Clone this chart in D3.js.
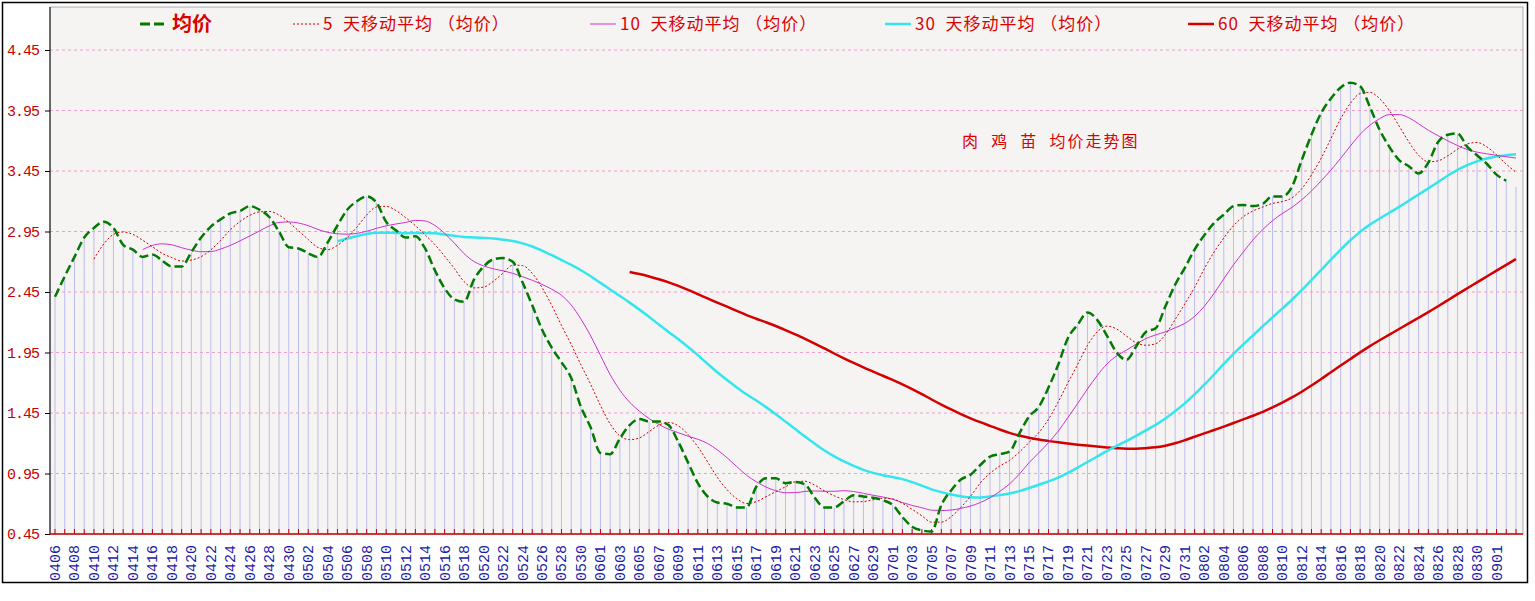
<!DOCTYPE html>
<html>
<head>
<meta charset="utf-8">
<script src="https://cdn.jsdelivr.net/npm/d3@7"></script>
<style>
  body { margin: 0; background: #fff; }
  svg { display: block; }
</style>
</head>
<body>
<svg id="chart" width="1535" height="601"></svg>
<script>
// daily average price (均价), 0406 .. 0903
const avgPrice = [
  2.41, 2.58, 2.74, 2.90, 2.98, 3.03, 2.98, 2.84, 2.80, 2.74,
  2.76, 2.71, 2.66, 2.66, 2.78, 2.90, 2.99, 3.05, 3.10, 3.12,
  3.16, 3.13, 3.07, 2.95, 2.82, 2.81, 2.77, 2.74, 2.86, 3.00,
  3.13, 3.20, 3.24, 3.19, 3.03, 2.96, 2.90, 2.91, 2.81, 2.63,
  2.48, 2.39, 2.37, 2.55, 2.66, 2.72, 2.73, 2.70, 2.53, 2.34,
  2.14, 1.99, 1.87, 1.74, 1.50, 1.33, 1.12, 1.11, 1.24, 1.35,
  1.40, 1.38, 1.38, 1.35, 1.21, 1.04, 0.87, 0.76, 0.71, 0.70,
  0.67, 0.67, 0.84, 0.91, 0.91, 0.87, 0.88, 0.86, 0.75, 0.67,
  0.67, 0.72, 0.77, 0.76, 0.75, 0.73, 0.69, 0.59, 0.51, 0.48,
  0.47, 0.69, 0.81, 0.90, 0.94, 1.02, 1.09, 1.11, 1.13, 1.28,
  1.42, 1.50, 1.66, 1.85, 2.07, 2.18, 2.28, 2.22, 2.09, 1.95,
  1.89, 2.00, 2.12, 2.15, 2.33, 2.51, 2.65, 2.80, 2.92, 3.02,
  3.09, 3.16, 3.17, 3.16, 3.18, 3.24, 3.24, 3.32, 3.54, 3.75,
  3.93, 4.05, 4.14, 4.18, 4.15, 3.98, 3.79, 3.65, 3.54, 3.49,
  3.43, 3.52, 3.69, 3.75, 3.76, 3.65, 3.58, 3.51, 3.42, 3.37,
  3.32
];
const maPeriods = [5, 10, 30, 60];
const yTicks = [0.45, 0.95, 1.45, 1.95, 2.45, 2.95, 3.45, 3.95, 4.45];
const startDate = new Date(2020, 3, 6);
const dayLabels = avgPrice.map((d, i) => d3.timeFormat("%m%d")(d3.timeDay.offset(startDate, i)));

const legendItems = [
  { label: "均价", color: "#007a00", width: 2.5, dash: "9,4", big: true },
  { label: "5  天移动平均 （均价）", color: "#cc0000", width: 1, dash: "2,2" },
  { label: "10  天移动平均 （均价）", color: "#cc33cc", width: 1, dash: null },
  { label: "30  天移动平均 （均价）", color: "#33e6ee", width: 2.5, dash: null },
  { label: "60  天移动平均 （均价）", color: "#d40000", width: 2.5, dash: null }
];
const legendX = [140, 293, 590, 885, 1188];

const svg = d3.select("#chart");
const plot = { left: 50, right: 1523, top: 7, bottom: 534 };

const x = d3.scaleLinear().domain([0, 150]).range([55, 1516]);
const y = d3.scaleLinear().domain([0.45, 4.45]).range([534, 50]);

// frame + paper background
svg.append("rect").attr("x", 2.5).attr("y", 2.5).attr("width", 1525).attr("height", 580)
  .attr("fill", "#fff").attr("stroke", "#000").attr("stroke-width", 1.5);
svg.append("rect").attr("x", plot.left).attr("y", plot.top)
  .attr("width", plot.right - plot.left).attr("height", plot.bottom - plot.top)
  .attr("fill", "#f6f3f3").attr("stroke", "#999").attr("stroke-width", 0.8);

// daily bars
svg.append("g").selectAll("line").data(avgPrice).join("line")
  .attr("x1", (d, i) => x(i)).attr("x2", (d, i) => x(i))
  .attr("y1", y(0.45)).attr("y2", d => y(d))
  .attr("stroke", "#bcbcee").attr("stroke-width", 1);

// horizontal grid
svg.append("g").selectAll("line").data(yTicks.slice(1)).join("line")
  .attr("x1", plot.left).attr("x2", plot.right)
  .attr("y1", d => y(d)).attr("y2", d => y(d))
  .attr("stroke", "#e8a0cc").attr("stroke-dasharray", "3,3").attr("stroke-width", 1);

// y axis
const yAxis = svg.append("g").attr("transform", `translate(${plot.left},0)`)
  .call(d3.axisLeft(y).tickValues(yTicks).tickSize(5).tickFormat(d3.format(".2f")));
yAxis.select(".domain").attr("stroke", "#000").attr("d", `M0,${plot.top}V${plot.bottom}`);
yAxis.selectAll(".tick line").attr("stroke", "#000");
yAxis.selectAll("text").attr("fill", "#cc0000").attr("x", -11)
  .style("font", "15px 'Liberation Mono', 'DejaVu Sans Mono', monospace")
  .attr("letter-spacing", -1);

// x axis
const xAxis = svg.append("g").attr("transform", `translate(0,${plot.bottom})`);
xAxis.append("line").attr("x1", plot.left).attr("x2", plot.right)
  .attr("stroke", "#cc0000").attr("stroke-width", 1.5);
xAxis.selectAll(".tk").data(d3.range(0, 151)).join("line").attr("class", "tk")
  .attr("x1", d => x(d)).attr("x2", d => x(d)).attr("y1", 0).attr("y2", -5)
  .attr("stroke", "#cc0000");
xAxis.selectAll("text").data(dayLabels.filter((d, i) => i % 2 === 0 && i <= 148)).join("text")
  .attr("transform", (d, i) => `translate(${x(i * 2) + 5},${11}) rotate(-90)`)
  .attr("text-anchor", "end")
  .attr("fill", "#1a1aaa")
  .style("font", "15px 'Liberation Mono', 'DejaVu Sans Mono', monospace")
  .text(d => d);

// moving averages
function movingAvg(n) {
  return avgPrice.map((d, i) => i < n - 1 ? null : d3.mean(avgPrice.slice(i - n + 1, i + 1)));
}
const line = d3.line()
  .defined(d => d != null)
  .x((d, i) => x(i)).y(d => y(d))
  .curve(d3.curveMonotoneX);

const seriesData = [avgPrice.slice(0, 150)].concat(maPeriods.map(movingAvg));
const drawOrder = [4, 3, 2, 1, 0];
drawOrder.forEach(k => {
  const s = legendItems[k];
  svg.append("path").datum(seriesData[k])
    .attr("d", line).attr("fill", "none")
    .attr("stroke", s.color).attr("stroke-width", s.width)
    .attr("stroke-dasharray", s.dash);
});

// legend
legendItems.forEach((s, k) => {
  const g = svg.append("g").attr("transform", `translate(${legendX[k]},24)`);
  g.append("line").attr("x1", 0).attr("x2", 26).attr("y1", 0).attr("y2", 0)
    .attr("stroke", s.color).attr("stroke-width", s.big ? 3 : s.width)
    .attr("stroke-dasharray", s.big ? "10,4" : s.dash);
  g.append("text").attr("x", s.big ? 32 : 30).attr("y", s.big ? 7 : 6)
    .attr("fill", "#dd0000")
    .attr("xml:space", "preserve").style("white-space", "pre")
    .attr("letter-spacing", s.big ? 0 : 1)
    .style("font", s.big ? "bold 20px 'Noto Sans CJK SC', sans-serif" : "17px 'Noto Sans CJK SC', sans-serif")
    .text(s.label);
});

// title
svg.append("text").attr("x", 962).attr("y", 147).attr("fill", "#dd0000")
  .style("font", "16px 'Noto Sans CJK SC', sans-serif")
  .style("white-space", "pre").attr("letter-spacing", 2)
  .text("肉  鸡  苗  均价走势图");
</script>
</body>
</html>
